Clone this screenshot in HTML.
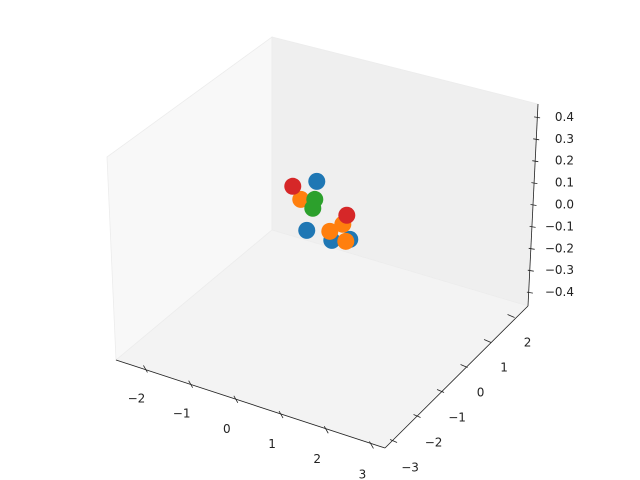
<!DOCTYPE html>
<html><head><meta charset="utf-8"><style>
body{margin:0;background:#fff}
svg{display:block;font-family:"DejaVu Sans","Liberation Sans",sans-serif;font-size:12px}
</style></head><body>
<svg width="640" height="480" viewBox="0 0 640 480">
<g>
<polygon points="107,157 272,37 272,230 116,360" fill="#f8f8f8" stroke="#ececec" stroke-width="0.8"/>
<polygon points="272,37 538,104 528,306 272,230" fill="#efefef" stroke="#ececec" stroke-width="0.8"/>
<polygon points="116,360 272,230 528,306 385,448" fill="#f3f3f3" stroke="#ececec" stroke-width="0.8"/>
</g>
<line x1="116" y1="360" x2="385" y2="448" stroke="#222" stroke-width="0.8"/>
<line x1="385" y1="448" x2="528" y2="306" stroke="#222" stroke-width="0.8"/>
<line x1="528" y1="306" x2="538" y2="104" stroke="#222" stroke-width="0.8"/>
<g id="ticks"></g>
<g id="points"></g>
</svg>
<script>
const xTicks=[-2,-1,0,1,2,3];
const yTicks=[-3,-2,-1,0,1,2];
const zTicks=[-0.4,-0.3,-0.2,-0.1,0.0,0.1,0.2,0.3,0.4];
const seriesColors=["#1f77b4","#ff7f0e","#2ca02c","#d62728"];
const blueX=[0.075,-0.147,0.407,0.805], blueY=[0,0,0,0], blueZ=[0.164,-0.074,-0.081,-0.049];
const orangeX=[-0.279,0.363,0.651,0.717], orangeY=[0,0,0,0], orangeZ=[0.058,-0.043,0.009,-0.064];
const greenX=[0.031,-0.013], greenY=[0,0], greenZ=[0.079,0.036];
const redX=[-0.456,0.739], redY=[0,0], redZ=[0.105,0.056];
const NS="http://www.w3.org/2000/svg";
function px(x,y,z){return 385+(x-3.3)*45.2+(y+3.3)*23.5;}
function py(x,y,z){return 448+(x-3.3)*15.2-(y+3.3)*25-(z+0.45)*220;}
function zy(z){return 204.5-z*219;}
function zx(z){return 533.5+z*9;}
function mk(t,a){const e=document.createElementNS(NS,t);for(const k in a)e.setAttribute(k,a[k]);return e;}
const tg=document.getElementById('ticks');
xTicks.forEach(v=>{const x=px(v,-3.3,-0.45),y=py(v,-3.3,-0.45);
 const l=mk('line',{x1:x-2,y1:y-2,x2:x+2,y2:y+5,stroke:'#222','stroke-width':0.8});
 
 tg.appendChild(l);
 const t=mk('text',{x:x-9,y:y+35,'text-anchor':'middle',fill:'#222'});t.textContent=v<0?'\u2212'+(-v):v;
 
 tg.appendChild(t);});
yTicks.forEach(v=>{const x=px(3.3,v,-0.45),y=py(3.3,v,-0.45);
 const l=mk('line',{x1:x-2,y1:y-1,x2:x+5,y2:y+2,stroke:'#222','stroke-width':0.8});
 
 tg.appendChild(l);
 const t=mk('text',{x:x+18,y:y+31,'text-anchor':'middle',fill:'#222'});t.textContent=v<0?'\u2212'+(-v):v;
 
 tg.appendChild(t);});
zTicks.forEach(v=>{const x=zx(v),y=zy(v);
 const l=mk('line',{x1:x-3,y1:y,x2:x+3,y2:y+1,stroke:'#222','stroke-width':0.8});
 
 tg.appendChild(l);
 const t=mk('text',{x:574,y:y+4,'text-anchor':'end',fill:'#222'});t.textContent=(v<0?'\u2212':'')+Math.abs(v).toFixed(1);
 
 tg.appendChild(t);});
const pg=document.getElementById('points');
const series=[[blueX,blueY,blueZ],[orangeX,orangeY,orangeZ],[greenX,greenY,greenZ],[redX,redY,redZ]];
const names=['blue','orange','green','red'];
series.forEach((s,i)=>{s[0].forEach((xv,j)=>{
 const c=mk('circle',{cx:px(xv,s[1][j],s[2][j]),cy:py(xv,s[1][j],s[2][j]),r:8.5,fill:seriesColors[i]});
 
 pg.appendChild(c);});});
</script>
</body></html>
